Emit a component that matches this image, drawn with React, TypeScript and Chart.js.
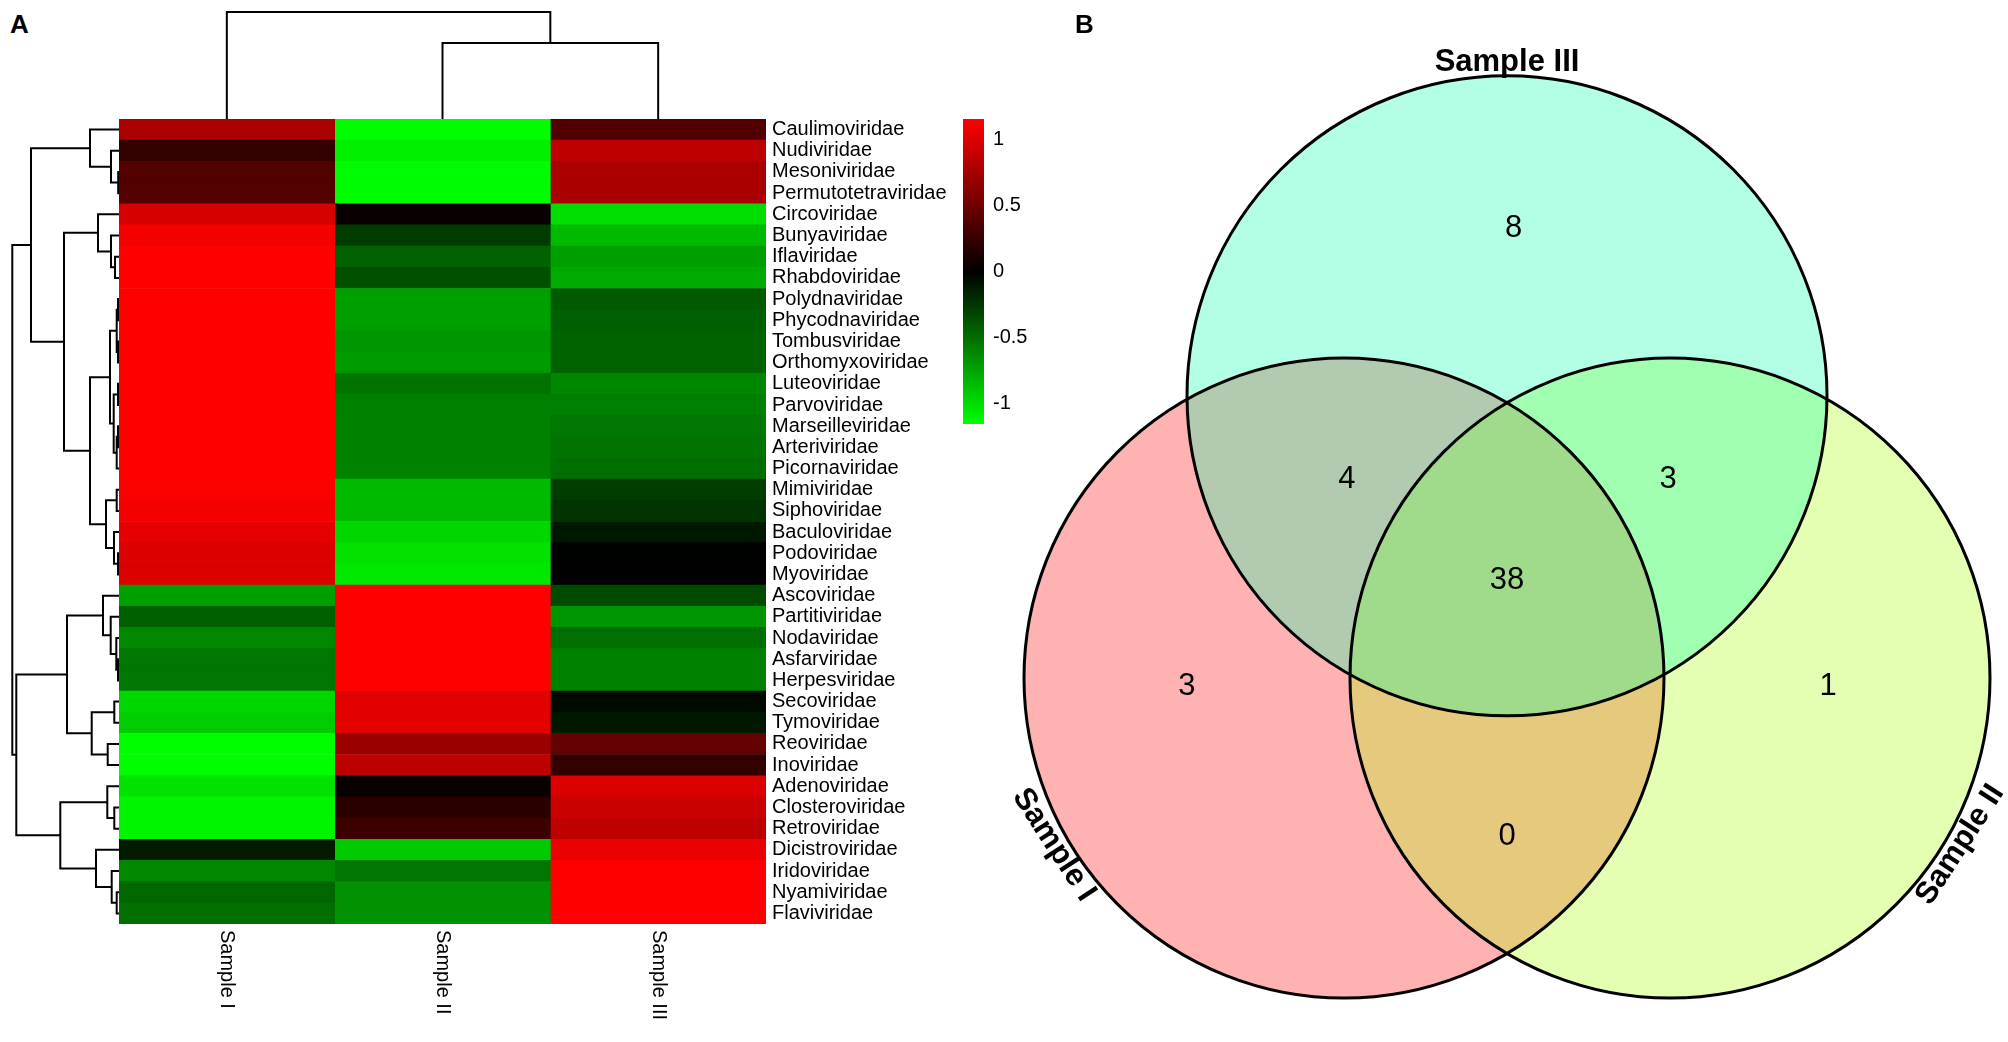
import React, { useEffect, useRef } from "react";
import { Chart, registerables } from "chart.js";

Chart.register(...registerables);

const FONT = "'Liberation Sans', Arial, Helvetica, sans-serif";
const NARROW = "'Liberation Sans Narrow', 'Liberation Sans', Arial, sans-serif";

// ---------------- DATA ----------------
const ROW_LABELS = [
  "Caulimoviridae", "Nudiviridae", "Mesoniviridae", "Permutotetraviridae", "Circoviridae",
  "Bunyaviridae", "Iflaviridae", "Rhabdoviridae", "Polydnaviridae", "Phycodnaviridae",
  "Tombusviridae", "Orthomyxoviridae", "Luteoviridae", "Parvoviridae", "Marseilleviridae",
  "Arteriviridae", "Picornaviridae", "Mimiviridae", "Siphoviridae", "Baculoviridae",
  "Podoviridae", "Myoviridae", "Ascoviridae", "Partitiviridae", "Nodaviridae",
  "Asfarviridae", "Herpesviridae", "Secoviridae", "Tymoviridae", "Reoviridae",
  "Inoviridae", "Adenoviridae", "Closteroviridae", "Retroviridae", "Dicistroviridae",
  "Iridoviridae", "Nyamiviridae", "Flaviviridae",
];

const SAMPLE_LABELS = ["Sample I", "Sample II", "Sample III"];

// row-scaled (z-score) values
const SAMPLE_I = [
  0.77, 0.23, 0.37, 0.37, 0.97, 1.11, 1.15, 1.15, 1.15, 1.15,
  1.15, 1.15, 1.15, 1.15, 1.15, 1.15, 1.15, 1.13, 1.11, 1.04,
  1.0, 0.99, -0.72, -0.43, -0.62, -0.54, -0.54, -0.97, -0.93, -1.15,
  -1.15, -1.03, -1.11, -1.11, -0.12, -0.62, -0.46, -0.5,
];
const SAMPLE_II = [
  -1.15, -1.09, -1.14, -1.14, 0.04, -0.27, -0.45, -0.36, -0.72, -0.72,
  -0.68, -0.7, -0.52, -0.57, -0.59, -0.59, -0.59, -0.84, -0.84, -0.97,
  -1.02, -1.05, 1.15, 1.15, 1.15, 1.15, 1.15, 1.03, 1.03, 0.7,
  0.86, 0.04, 0.18, 0.27, -0.92, -0.54, -0.66, -0.66,
];
const SAMPLE_III = [
  0.36, 0.86, 0.77, 0.77, -1.0, -0.84, -0.72, -0.77, -0.41, -0.43,
  -0.45, -0.45, -0.61, -0.57, -0.54, -0.52, -0.5, -0.27, -0.23, -0.11,
  -0.01, 0.01, -0.34, -0.68, -0.5, -0.59, -0.59, -0.04, -0.11, 0.45,
  0.23, 0.99, 0.92, 0.86, 1.06, 1.15, 1.15, 1.15,
];

const COLORBAR_TICKS = [-1, -0.5, 0, 0.5, 1];
const Z_LIMIT = 1.1547;

// Row dendrogram (hclust-style merges: negative = leaf row, positive = earlier merge)
const ROW_MERGE_LEFT = [
  -3, -2, -1, -7, -6, -5, -9, -11, 7, -13, -15, 11, 10, 9, -18, -21, -20, 15, 14, 6,
  3, -26, -25, -24, -23, -28, -30, 26, 25, -33, -32, -37, -36, -35, 31, 29, 21,
];
const ROW_MERGE_RIGHT = [
  -4, 1, 2, -8, 4, 5, -10, -12, 8, -14, -16, -17, 12, 13, -19, -22, 16, 17, 18, 19,
  20, -27, 22, 23, 24, -29, -31, 27, 28, -34, 30, -38, 32, 33, 34, 35, 36,
];
const ROW_MERGE_HEIGHT = [
  0.8, 8, 29, 4, 8, 21, 1, 1, 2.3, 1, 1, 2.3, 5.3, 9, 2.3, 1, 5, 13, 29, 55,
  88, 1, 2.7, 8.3, 16, 4.7, 11.3, 27.3, 52, 4.7, 11.7, 2.3, 7.3, 23, 58.7, 102.7, 106.7,
];

// Column dendrogram
const COL_MERGE_LEFT = [-2, -1];
const COL_MERGE_RIGHT = [-3, 1];
const COL_MERGE_HEIGHT = [76, 107];

// Venn diagram
const VENN_SETS = ["Sample I", "Sample II", "Sample III"];
// regions: I only, II only, III only, I∩III, II∩III, I∩II∩III, I∩II
const VENN_COUNTS = [3, 1, 8, 4, 3, 38, 0];

// ---------------- LAYOUT / STYLE ----------------
const HM_LEFT = 119;
const HM_TOP = 119;
const HM_W = 647;
const HM_H = 805;
const HM_CANVAS_W = 850;
const HM_CANVAS_H = 1042 - HM_TOP;

const CB_LEFT = 963;
const CB_TOP = 109;
const CB_W = 80;
const CB_BAR_W = 21;
const CB_PAD = 10;
const CB_H = 305 + 2 * CB_PAD;

const VENN_LEFT = 1000;
const VENN_W = 1008;
const VENN_H = 1042;
const VENN_UNIT = 326; // px per unit (centre spacing)
const VENN_CX = 507; // centroid px in canvas
const VENN_CY = 584;
const VENN_RADIUS = 320 / 326;
const VENN_CENTERS = [
  [-0.5, -0.2887],
  [0.5, -0.2887],
  [0, 0.5774],
];
const VENN_FILLS = ["rgba(255,0,0,0.3)", "rgba(170,255,0,0.3)", "rgba(0,255,170,0.3)"];
const VENN_COUNT_POS = [
  [-0.982, -0.313],
  [0.985, -0.313],
  [0.02, 1.092],
  [-0.491, 0.322],
  [0.494, 0.322],
  [0, 0.01],
  [0, -0.773],
];
const VENN_LABEL_POS = [
  [-1.39, -0.8, 57],
  [1.39, -0.8, -57],
  [0, 1.6, 0],
];

function valueColor(v: number): string {
  const t = Math.min(1, Math.abs(v) / Z_LIMIT);
  const c = Math.round(255 * t);
  return v >= 0 ? `rgb(${c},0,0)` : `rgb(0,${c},0)`;
}

type Pt = { p: number; h: number };
function dendroSegments(L: number[], R: number[], H: number[]): Pt[][] {
  const pos: number[] = [];
  const hgt: number[] = [];
  const segs: Pt[][] = [];
  const get = (id: number): Pt => (id < 0 ? { p: -id, h: 0 } : { p: pos[id - 1], h: hgt[id - 1] });
  for (let i = 0; i < L.length; i++) {
    const a = get(L[i]);
    const b = get(R[i]);
    pos.push((a.p + b.p) / 2);
    hgt.push(H[i]);
    segs.push([a, { p: a.p, h: H[i] }, { p: b.p, h: H[i] }, b]);
  }
  return segs;
}

const baseOptions: any = {
  animation: false,
  responsive: false,
  devicePixelRatio: 1,
  events: [],
  plugins: { legend: { display: false }, tooltip: { enabled: false } },
};

const colLabelPlugin = {
  id: "colLabels",
  afterDraw(chart: any) {
    const { ctx, chartArea, scales } = chart;
    ctx.save();
    ctx.font = `20px ${FONT}`;
    ctx.fillStyle = "#000";
    ctx.textAlign = "left";
    ctx.textBaseline = "middle";
    SAMPLE_LABELS.forEach((lab, j) => {
      const x = scales.x.getPixelForValue(j + 0.5);
      ctx.save();
      ctx.translate(x, chartArea.bottom + 6);
      ctx.rotate(Math.PI / 2);
      ctx.fillText(lab, 0, 0);
      ctx.restore();
    });
    ctx.restore();
  },
};

const vennTextPlugin = {
  id: "vennText",
  afterDatasetsDraw(chart: any) {
    const { ctx, scales } = chart;
    const x = scales.x;
    const y = scales.y;
    ctx.save();
    ctx.fillStyle = "#000";
    ctx.textAlign = "center";
    ctx.textBaseline = "middle";
    ctx.font = `31px ${NARROW}`;
    VENN_COUNTS.forEach((n, i) => {
      const [px, py] = VENN_COUNT_POS[i];
      ctx.fillText(String(n), x.getPixelForValue(px), y.getPixelForValue(py));
    });
    ctx.font = `bold 31px ${FONT}`;
    VENN_SETS.forEach((name, i) => {
      const [px, py, rot] = VENN_LABEL_POS[i];
      ctx.save();
      ctx.translate(x.getPixelForValue(px), y.getPixelForValue(py));
      ctx.rotate((rot * Math.PI) / 180);
      ctx.fillText(name, 0, 0);
      ctx.restore();
    });
    ctx.restore();
  },
};

export default function App() {
  const hmRef = useRef<HTMLCanvasElement>(null);
  const rowRef = useRef<HTMLCanvasElement>(null);
  const colRef = useRef<HTMLCanvasElement>(null);
  const cbRef = useRef<HTMLCanvasElement>(null);
  const vennRef = useRef<HTMLCanvasElement>(null);

  useEffect(() => {
    const charts: Chart[] = [];
    const samples = [SAMPLE_I, SAMPLE_II, SAMPLE_III];

    // Heatmap
    charts.push(
      new Chart(hmRef.current as HTMLCanvasElement, {
        type: "bar",
        data: {
          labels: ROW_LABELS,
          datasets: samples.map((vals, j) => ({
            label: SAMPLE_LABELS[j],
            data: vals.map(() => [j, j + 1]) as any,
            backgroundColor: vals.map(valueColor),
            borderWidth: 0,
            grouped: false,
            barPercentage: 1,
            categoryPercentage: 1,
          })),
        },
        options: {
          ...baseOptions,
          indexAxis: "y",
          layout: { padding: { left: 0, right: 0, top: 0, bottom: HM_CANVAS_H - HM_H } },
          scales: {
            x: { type: "linear", min: 0, max: 3, display: false },
            y: {
              type: "category",
              position: "right",
              grid: { display: false, drawTicks: false },
              border: { display: false },
              ticks: { autoSkip: false, color: "#000", padding: 6, font: { size: 20, family: FONT } },
              afterFit: (s: any) => {
                s.width = HM_CANVAS_W - HM_W;
                s.paddingTop = 0;
                s.paddingBottom = 0;
              },
            },
          },
        } as any,
        plugins: [colLabelPlugin],
      })
    );

    const lineDs = (segs: Pt[][], map: (q: Pt) => { x: number; y: number }) =>
      segs.map((s) => ({
        data: s.map(map),
        showLine: true,
        borderColor: "#000",
        borderWidth: 2,
        pointRadius: 0,
        fill: false,
        clip: false as any,
        tension: 0,
      }));

    // Row dendrogram
    const rowSegs = dendroSegments(ROW_MERGE_LEFT, ROW_MERGE_RIGHT, ROW_MERGE_HEIGHT);
    charts.push(
      new Chart(rowRef.current as HTMLCanvasElement, {
        type: "scatter",
        data: { datasets: lineDs(rowSegs, (q) => ({ x: q.h, y: q.p })) as any },
        options: {
          ...baseOptions,
          layout: { padding: 0, autoPadding: false },
          scales: {
            x: { type: "linear", min: 0, max: HM_LEFT, reverse: true, display: false },
            y: { type: "linear", min: 0.5, max: ROW_LABELS.length + 0.5, reverse: true, display: false },
          },
        } as any,
      })
    );

    // Column dendrogram
    const colSegs = dendroSegments(COL_MERGE_LEFT, COL_MERGE_RIGHT, COL_MERGE_HEIGHT);
    charts.push(
      new Chart(colRef.current as HTMLCanvasElement, {
        type: "scatter",
        data: { datasets: lineDs(colSegs, (q) => ({ x: q.p - 0.5, y: q.h })) as any },
        options: {
          ...baseOptions,
          layout: { padding: 0, autoPadding: false },
          scales: {
            x: { type: "linear", min: 0, max: 3, display: false },
            y: { type: "linear", min: 0, max: HM_TOP, display: false },
          },
        } as any,
      })
    );

    // Colour bar
    charts.push(
      new Chart(cbRef.current as HTMLCanvasElement, {
        type: "bar",
        data: {
          labels: ["scale"],
          datasets: [
            {
              data: [[-Z_LIMIT, Z_LIMIT]] as any,
              borderWidth: 0,
              barPercentage: 1,
              categoryPercentage: 1,
              backgroundColor: (c: any) => {
                const chart = c.chart;
                const ys = chart.scales && chart.scales.y;
                if (!chart.chartArea || !ys) return "#000";
                const g = chart.ctx.createLinearGradient(0, ys.getPixelForValue(-Z_LIMIT), 0, ys.getPixelForValue(Z_LIMIT));
                g.addColorStop(0, "rgb(0,255,0)");
                g.addColorStop(0.5, "rgb(0,0,0)");
                g.addColorStop(1, "rgb(255,0,0)");
                return g;
              },
            },
          ],
        },
        options: {
          ...baseOptions,
          layout: { padding: { top: CB_PAD, bottom: CB_PAD, left: 0, right: 0 } },
          scales: {
            x: { type: "category", display: false, offset: true },
            y: {
              type: "linear",
              position: "right",
              min: -Z_LIMIT,
              max: Z_LIMIT,
              grid: { display: false, drawTicks: false },
              border: { display: false },
              afterBuildTicks: (s: any) => {
                s.ticks = COLORBAR_TICKS.map((v) => ({ value: v }));
              },
              ticks: {
                color: "#000",
                padding: 9,
                font: { size: 20, family: FONT },
                callback: (v: any) => String(v),
              },
              afterFit: (s: any) => {
                s.width = CB_W - CB_BAR_W;
                s.paddingTop = 0;
                s.paddingBottom = 0;
              },
            },
          },
        } as any,
      })
    );

    // Venn
    const rPx = VENN_RADIUS * VENN_UNIT;
    const fillDs = (i: number, order: number) => ({
      data: [{ x: VENN_CENTERS[i][0], y: VENN_CENTERS[i][1], r: rPx }],
      backgroundColor: VENN_FILLS[i],
      borderColor: "rgba(0,0,0,0)",
      borderWidth: 0,
      hoverRadius: 0,
      order,
      clip: false as any,
    });
    charts.push(
      new Chart(vennRef.current as HTMLCanvasElement, {
        type: "bubble",
        data: {
          datasets: [
            {
              data: VENN_CENTERS.map(([x, y]) => ({ x, y, r: rPx })),
              backgroundColor: "rgba(0,0,0,0)",
              borderColor: "#000",
              borderWidth: 3,
              hoverRadius: 0,
              order: 1,
              clip: false as any,
            },
            fillDs(2, 2),
            fillDs(1, 3),
            fillDs(0, 4),
          ] as any,
        },
        options: {
          ...baseOptions,
          layout: { padding: 0, autoPadding: false },
          scales: {
            x: { type: "linear", min: -VENN_CX / VENN_UNIT, max: (VENN_W - VENN_CX) / VENN_UNIT, display: false },
            y: { type: "linear", min: -(VENN_H - VENN_CY) / VENN_UNIT, max: VENN_CY / VENN_UNIT, display: false },
          },
        } as any,
        plugins: [vennTextPlugin],
      })
    );

    return () => charts.forEach((c) => c.destroy());
  }, []);

  const abs = (left: number, top: number): React.CSSProperties => ({ position: "absolute", left, top });
  const panelLabel: React.CSSProperties = {
    position: "absolute",
    font: `bold 26px ${FONT}`,
    lineHeight: "26px",
    color: "#000",
    margin: 0,
  };

  return (
    <div style={{ position: "absolute", left: 0, top: 0, width: 2008, height: 1042, background: "#fff", overflow: "hidden" }}>
      <canvas ref={colRef} width={HM_W} height={HM_TOP} style={abs(HM_LEFT, 0)} />
      <canvas ref={rowRef} width={HM_LEFT} height={HM_H} style={abs(0, HM_TOP)} />
      <canvas ref={hmRef} width={HM_CANVAS_W} height={HM_CANVAS_H} style={abs(HM_LEFT, HM_TOP)} />
      <canvas ref={cbRef} width={CB_W} height={CB_H} style={abs(CB_LEFT, CB_TOP)} />
      <canvas ref={vennRef} width={VENN_W} height={VENN_H} style={abs(VENN_LEFT, 0)} />
      <div style={{ ...panelLabel, left: 10, top: 11 }}>A</div>
      <div style={{ ...panelLabel, left: 1075, top: 11 }}>B</div>
    </div>
  );
}
